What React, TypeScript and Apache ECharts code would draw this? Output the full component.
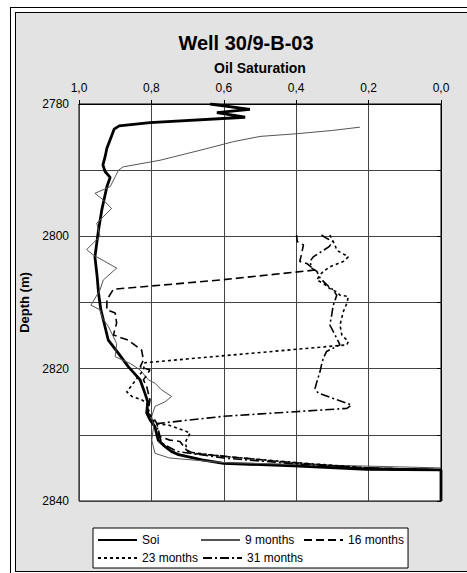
import React, { useEffect, useRef } from "react";
import * as echarts from "echarts";

const FONT = "'Liberation Sans', Arial, sans-serif";

const titleText = "Well 30/9-B-03";
const xAxisTitle = "Oil Saturation";
const yAxisTitle = "Depth (m)";

const satTicks = [0, 0.2, 0.4, 0.6, 0.8, 1.0];
const satTickLabels = ["0,0", "0,2", "0,4", "0,6", "0,8", "1,0"];
const depthTicks = [2780, 2800, 2820, 2840];
const depthTickLabels = ["2780", "2800", "2820", "2840"];

const seriesNames = ["Soi", "9 months", "16 months", "23 months", "31 months"];

const soiSat = [0.638, 0.528, 0.619, 0.541, 0.804, 0.889, 0.903, 0.914, 0.923, 0.928, 0.934, 0.928, 0.914, 0.923, 0.937, 0.946, 0.956, 0.95, 0.946, 0.94, 0.928, 0.919, 0.891, 0.864, 0.831, 0.818, 0.81, 0.813, 0.804, 0.79, 0.785, 0.781, 0.762, 0.745, 0.725, 0.66, 0.601, 0.408, 0.205, 0.0, 0.0];
const soiDepth = [2780.0, 2780.8, 2781.3, 2782.0, 2782.8, 2783.3, 2783.8, 2785.4, 2786.7, 2788.0, 2789.2, 2790.2, 2791.1, 2792.5, 2796, 2799, 2803.1, 2806, 2808.6, 2811, 2813.7, 2815.7, 2817.7, 2819.7, 2821.7, 2823.7, 2825, 2826.7, 2827.7, 2828.8, 2830.0, 2830.8, 2831.8, 2832.5, 2833.0, 2833.8, 2834.3, 2834.7, 2835.2, 2835.3, 2840];

const m9Sat = [0.224, 0.3, 0.4, 0.5, 0.574, 0.666, 0.776, 0.878, 0.891, 0.9, 0.914, 0.956, 0.933, 0.91, 0.951, 0.942, 0.979, 0.961, 0.896, 0.933, 0.942, 0.967, 0.942, 0.935, 0.919, 0.896, 0.9, 0.859, 0.831, 0.808, 0.79, 0.772, 0.744, 0.762, 0.79, 0.799, 0.794, 0.799, 0.79, 0.75, 0.6, 0.0];
const m9Depth = [2783.5, 2784.0, 2784.5, 2784.9, 2785.7, 2787, 2788.5, 2789.5, 2790, 2791, 2792.5, 2793.5, 2794.5, 2795.8, 2798, 2800, 2802, 2802.8, 2804.8, 2806.6, 2808.1, 2810.4, 2811.1, 2812.4, 2813.6, 2816.2, 2818.2, 2819.2, 2820.2, 2821.7, 2822.2, 2823.2, 2824.2, 2825, 2825.7, 2827.2, 2828.8, 2830.8, 2832.8, 2833.5, 2834.2, 2835.0];

const m16Sat = [0.399, 0.397, 0.38, 0.385, 0.39, 0.371, 0.348, 0.61, 0.905, 0.923, 0.923, 0.9, 0.896, 0.905, 0.864, 0.827, 0.822, 0.831, 0.804, 0.822, 0.813, 0.804, 0.809, 0.79, 0.785, 0.776, 0.749, 0.721, 0.703, 0.684, 0.454, 0.224, 0.0];
const m16Depth = [2799.8, 2800.8, 2801.3, 2802.6, 2803.8, 2804.1, 2805.1, 2806.6, 2808.0, 2809.6, 2811.1, 2811.6, 2813.1, 2814.9, 2815.7, 2817.2, 2818.7, 2819.7, 2820.2, 2821.7, 2822.7, 2824.7, 2826.7, 2827.8, 2828.3, 2830.3, 2830.8, 2831.0, 2832.3, 2832.8, 2834.0, 2835.0, 2835.3];

const m23Sat = [0.307, 0.293, 0.288, 0.256, 0.27, 0.307, 0.325, 0.334, 0.343, 0.325, 0.307, 0.288, 0.279, 0.256, 0.26, 0.27, 0.279, 0.274, 0.256, 0.26, 0.818, 0.822, 0.836, 0.868, 0.854, 0.827, 0.813, 0.804, 0.79, 0.754, 0.693, 0.707, 0.699, 0.592, 0.4, 0.2, 0.0];
const m23Depth = [2799.8, 2801.3, 2802.1, 2803.1, 2803.8, 2804.6, 2805.3, 2805.8, 2806.6, 2807.1, 2807.9, 2808.4, 2808.9, 2809.1, 2810.1, 2811.4, 2813.4, 2814.9, 2815.9, 2816.4, 2819.1, 2820.2, 2821.2, 2823.5, 2824.2, 2824.7, 2825.2, 2827.0, 2828.3, 2828.5, 2829.7, 2831.2, 2832.6, 2833.3, 2834.2, 2835.0, 2835.3];

const m31Sat = [0.33, 0.316, 0.298, 0.31, 0.353, 0.362, 0.357, 0.343, 0.334, 0.316, 0.298, 0.288, 0.298, 0.302, 0.307, 0.288, 0.279, 0.298, 0.316, 0.325, 0.33, 0.334, 0.343, 0.348, 0.339, 0.298, 0.247, 0.26, 0.601, 0.785, 0.78, 0.77, 0.73, 0.6, 0.4, 0.2, 0.0];
const m31Depth = [2799.8, 2800.3, 2800.8, 2801.6, 2803.1, 2803.8, 2804.8, 2805.3, 2806.3, 2807.3, 2808.1, 2808.9, 2810.5, 2811.9, 2813.4, 2815.4, 2816.4, 2816.9, 2817.4, 2818.4, 2819.4, 2820.4, 2822, 2823, 2823.7, 2824.5, 2825.5, 2826, 2827.2, 2828.3, 2830, 2831.3, 2832.5, 2833.5, 2834.4, 2835.0, 2835.3];

const zip = (xs: number[], ys: number[]) => xs.map((x, i) => [x, ys[i]]);

export default function App() {
  const ref = useRef<HTMLDivElement>(null);
  useEffect(() => {
    document.body.style.margin = "0";
    document.body.style.overflow = "hidden";
    const chart = echarts.init(ref.current!, null, { renderer: "svg" });
    const mk = (name: string, sat: number[], depth: number[], lineStyle: any) => ({
      name,
      type: "line",
      data: zip(sat, depth),
      showSymbol: false,
      symbol: "none",
      lineStyle,
      itemStyle: { color: lineStyle.color },
      z: 3,
    });
    chart.setOption({
      animation: false,
      backgroundColor: "transparent",
      textStyle: { fontFamily: FONT },
      graphic: [
        { type: "text", z: 5, x: 246, y: 43, style: { text: titleText, fill: "#000", font: `bold 20px ${FONT}`, textAlign: "center", textVerticalAlign: "middle" } },
      ],
      grid: { left: 79, top: 104, width: 362, height: 397, show: true, backgroundColor: "#fff", borderColor: "#000", borderWidth: 1 },
      xAxis: {
        type: "value",
        position: "top",
        inverse: true,
        min: 0,
        max: 1,
        interval: 0.2,
        name: xAxisTitle,
        nameLocation: "middle",
        nameGap: 29,
        nameTextStyle: { fontSize: 14, fontWeight: "bold", color: "#000", fontFamily: FONT },
        axisLine: { show: true, lineStyle: { color: "#000" } },
        axisTick: { show: true, inside: false, length: 4, lineStyle: { color: "#000" } },
        axisLabel: {
          margin: 10,
          fontSize: 12,
          color: "#000",
          fontFamily: FONT,
          formatter: (v: number) => {
            const i = satTicks.findIndex((t) => Math.abs(t - v) < 1e-6);
            return i >= 0 ? satTickLabels[i] : "";
          },
        },
        splitLine: { show: true, lineStyle: { color: "#444", width: 1 } },
      },
      yAxis: {
        type: "value",
        inverse: true,
        min: 2780,
        max: 2840,
        interval: 10,
        name: yAxisTitle,
        nameLocation: "middle",
        nameGap: 44,
        nameRotate: 90,
        nameTextStyle: { fontSize: 13, fontWeight: "bold", color: "#000", fontFamily: FONT },
        axisLine: { show: true, lineStyle: { color: "#000" } },
        axisTick: { show: true, inside: false, length: 4, lineStyle: { color: "#000" } },
        axisLabel: {
          margin: 10,
          fontSize: 12,
          color: "#000",
          fontFamily: FONT,
          formatter: (v: number) => {
            const i = depthTicks.indexOf(Math.round(v));
            return i >= 0 ? depthTickLabels[i] : "";
          },
        },
        splitLine: { show: true, lineStyle: { color: "#444", width: 1 } },
      },
      legend: {
        data: seriesNames,
        left: 93,
        top: 528,
        width: 330,
        orient: "horizontal",
        padding: [5, 4, 3, 4],
        itemGap: 4,
        itemWidth: 39,
        itemHeight: 12,
        itemStyle: { opacity: 0 },
        backgroundColor: "#fff",
        borderColor: "#000",
        borderWidth: 1,
        borderRadius: 0,
        textStyle: { fontSize: 12, color: "#000", fontFamily: FONT, width: 54, lineHeight: 14 },
      },
      series: [
        mk(seriesNames[0], soiSat, soiDepth, { color: "#000", width: 2.8, type: "solid" }),
        mk(seriesNames[1], m9Sat, m9Depth, { color: "#555", width: 1, type: "solid" }),
        mk(seriesNames[2], m16Sat, m16Depth, { color: "#000", width: 1.6, type: [8, 4] }),
        mk(seriesNames[3], m23Sat, m23Depth, { color: "#000", width: 1.6, type: [3, 3] }),
        mk(seriesNames[4], m31Sat, m31Depth, { color: "#000", width: 1.6, type: [9, 3, 2, 3] }),
      ],
    });
    return () => chart.dispose();
  }, []);
  return (
    <div style={{ position: "relative", width: 467, height: 573, overflow: "hidden", background: "#fff" }}>
      <div style={{ position: "absolute", left: 10, top: 7, width: 470, height: 580, border: "1px solid #000", boxSizing: "border-box" }} />
      <div style={{ position: "absolute", left: 15, top: 12, width: 470, height: 560, border: "1.5px solid #000", background: "#e3e3e3", boxSizing: "border-box" }} />
      <div ref={ref} style={{ position: "absolute", left: 0, top: 0, width: 467, height: 573 }} />
    </div>
  );
}
